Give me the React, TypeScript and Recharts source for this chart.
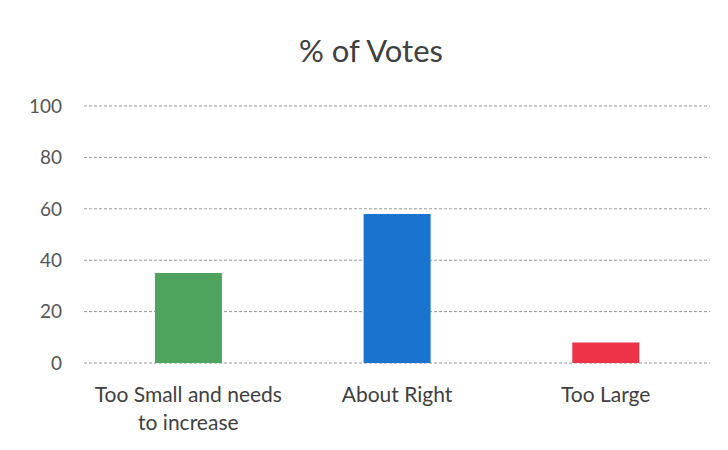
import { BarChart, Bar, XAxis, YAxis, CartesianGrid, Cell } from "recharts";

const categories = ["Too Small and needs to increase", "About Right", "Too Large"];
const votes = [35, 58, 8];
const barColors = ["#4ea35f", "#1a73cf", "#ee3348"];
const yTicks = [0, 20, 40, 60, 80, 100];

const data = categories.map((name, i) => ({ name, votes: votes[i] }));

const FONT = "Lato, 'Open Sans', sans-serif";

function wrap(label: string, maxChars: number) {
  const lines: string[] = [];
  let cur = "";
  for (const w of label.split(" ")) {
    const next = cur ? cur + " " + w : w;
    if (next.length > maxChars && cur) {
      lines.push(cur);
      cur = w;
    } else {
      cur = next;
    }
  }
  if (cur) lines.push(cur);
  return lines;
}

function CategoryTick(props: any) {
  const { x, y, payload } = props;
  const lines = wrap(String(payload.value), 20);
  return (
    <text
      x={x}
      y={y}
      textAnchor="middle"
      fill="#404040"
      fontSize={21}
      fontFamily={FONT}
    >
      {lines.map((l, i) => (
        <tspan key={i} x={x} dy={i === 0 ? 37 : 28}>
          {l}
        </tspan>
      ))}
    </text>
  );
}

export default function App() {
  return (
    <div style={{ padding: 0, width: 728, height: 450, position: "relative", background: "#fff", marginLeft: -8, marginTop: -8 }}>
      <div
        style={{
          position: "absolute",
          top: 5,
          left: 0,
          width: 728,
          height: 0,
          borderTop: "1px dashed #999999",
          zIndex: 2,
        }}
      />
      <div
        style={{
          position: "absolute",
          top: 31,
          left: 0,
          width: 742,
          textAlign: "center",
          fontFamily: FONT,
          fontSize: 31,
          color: "#404040",
          zIndex: 2,
        }}
      >
        % of Votes
      </div>
      <BarChart
        width={728}
        height={450}
        data={data}
        margin={{ top: 106, right: 18, left: 0, bottom: 0 }}
        barCategoryGap="34%"
      >
        <CartesianGrid
          vertical={false}
          stroke="#999999"
          strokeDasharray="3 2"
        />
        <XAxis
          dataKey="name"
          axisLine={false}
          tickLine={false}
          tickSize={0}
          height={87}
          interval={0}
          tick={<CategoryTick />}
        />
        <YAxis
          domain={[0, 100]}
          ticks={yTicks}
          axisLine={false}
          tickLine={false}
          tickSize={0}
          tickMargin={22}
          width={84}
          tick={{ fill: "#555555", fontSize: 19, fontFamily: FONT }}
        />
        <Bar dataKey="votes" isAnimationActive={false}>
          {data.map((d, i) => (
            <Cell key={d.name} fill={barColors[i]} />
          ))}
        </Bar>
      </BarChart>
    </div>
  );
}
